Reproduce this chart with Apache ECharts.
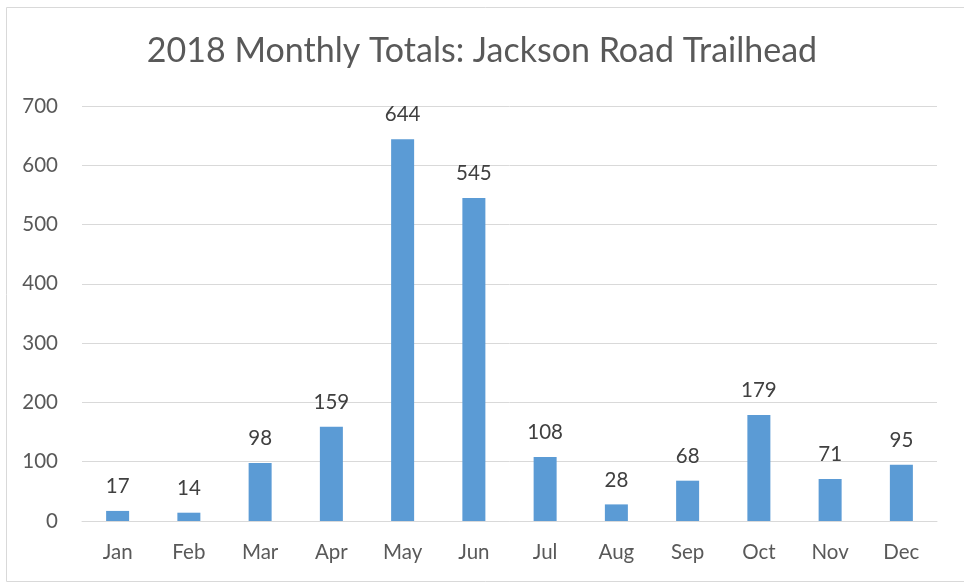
<!DOCTYPE html>
<html>
<head>
<meta charset="utf-8">
<script src="https://cdn.jsdelivr.net/npm/echarts@6/dist/echarts.min.js"></script>
<style>
  html, body { margin: 0; padding: 0; background: #fff; }
  #chart { width: 964px; height: 583px; }
</style>
</head>
<body>
<div id="chart"></div>
<script>
const months = ['Jan', 'Feb', 'Mar', 'Apr', 'May', 'Jun', 'Jul', 'Aug', 'Sep', 'Oct', 'Nov', 'Dec'];
const totals = [17, 14, 98, 159, 644, 545, 108, 28, 68, 179, 71, 95];
const yTicks = [0, 100, 200, 300, 400, 500, 600, 700];

const font = 'Lato, "Open Sans", sans-serif';

const chart = echarts.init(document.getElementById('chart'));
chart.setOption({
  animation: false,
  title: {
    text: '2018 Monthly Totals: Jackson Road Trailhead',
    left: 'center',
    top: 29,
    textStyle: { color: '#595959', fontSize: 34, fontWeight: 'normal', fontFamily: font }
  },
  // chart border
  graphic: [{
    type: 'rect',
    shape: { x: 6.5, y: 7.5, width: 980, height: 574 },
    style: { fill: 'none', stroke: '#d9d9d9', lineWidth: 1 },
    silent: true
  }],
  grid: { left: 82, right: 27, top: 106, bottom: 62 },
  xAxis: {
    type: 'category',
    data: months,
    axisLine: { lineStyle: { color: '#d9d9d9', width: 1 } },
    axisTick: { show: false },
    axisLabel: { color: '#595959', fontSize: 20.5, fontFamily: font, margin: 21 }
  },
  yAxis: {
    type: 'value',
    min: yTicks[0],
    max: yTicks[yTicks.length - 1],
    interval: 100,
    axisLine: { show: false },
    axisTick: { show: false },
    splitLine: { lineStyle: { color: '#d9d9d9', width: 1 } },
    axisLabel: { color: '#595959', fontSize: 20.5, fontFamily: font, margin: 24 }
  },
  series: [{
    type: 'bar',
    data: totals,
    barWidth: 23,
    itemStyle: { color: '#5b9bd5' },
    label: {
      show: true,
      position: 'top',
      distance: 14,
      color: '#404040',
      fontSize: 20.5,
      fontFamily: font
    }
  }]
});
</script>
</body>
</html>
